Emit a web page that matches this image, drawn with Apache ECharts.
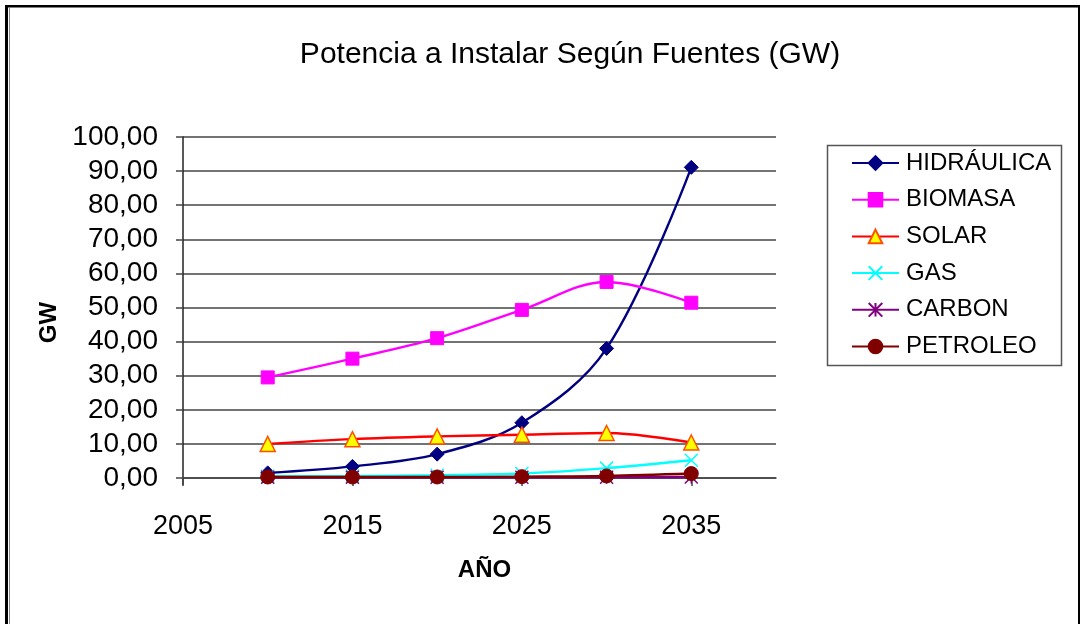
<!DOCTYPE html>
<html>
<head>
<meta charset="utf-8">
<script src="https://cdn.jsdelivr.net/npm/echarts@6/dist/echarts.min.js"></script>
<style>
  html, body { margin: 0; padding: 0; background: #fff; }
  #chart { width: 1085px; height: 624px; }
</style>
</head>
<body>
<div id="chart"></div>
<script>
// datos
const years      = [2010, 2015, 2020, 2025, 2030, 2035];
const hidraulica = [1.5, 3.4, 7.0, 16.2, 38.0, 91.1];
const biomasa    = [29.5, 35.0, 41.0, 49.3, 57.5, 51.4];
const solar      = [10.0, 11.4, 12.2, 12.7, 13.2, 10.4];
const gas        = [0.5, 0.6, 0.8, 1.3, 2.9, 5.2];
const carbon     = [0.2, 0.2, 0.2, 0.2, 0.2, 0.3];
const petroleo   = [0.3, 0.3, 0.3, 0.4, 0.6, 1.3];
const seriesNames = ['HIDRÁULICA', 'BIOMASA', 'SOLAR', 'GAS', 'CARBON', 'PETROLEO'];

const FONT = 'Liberation Sans, Arial, sans-serif';
const xMark = 'path://M0,0L10,10M10,0L0,10';
const starMark = 'path://M5,0L5,10M0,0L10,10M10,0L0,10';

function pairs(vals) {
    return years.map(function (y, i) { return [y, vals[i]]; });
}

function makeSeries(name, vals, color, symbol, size, extra) {
    const s = {
        name: name,
        type: 'line',
        smooth: 0.35,
        data: pairs(vals),
        symbol: symbol,
        symbolSize: size,
        showAllSymbol: true,
        lineStyle: { color: color, width: 2.4 },
        itemStyle: { color: color, borderColor: color, borderWidth: 1, opacity: 1 },
        emphasis: { disabled: true }
    };
    return Object.assign(s, extra || {});
}

const chart = echarts.init(document.getElementById('chart'));

const option = {
    animation: false,
    backgroundColor: '#fff',
    title: {
        text: 'Potencia a Instalar Según Fuentes (GW)',
        left: 570,
        top: 40,
        textAlign: 'center',
        padding: 0,
        textStyle: { fontFamily: FONT, fontSize: 30, fontWeight: 'normal', color: '#000' }
    },
    legend: {
        orient: 'vertical',
        left: 851,
        top: 151,
        padding: 0,
        itemWidth: 47,
        itemHeight: 17,
        itemGap: 12.7,
        data: seriesNames,
        textStyle: { fontFamily: FONT, fontSize: 24, color: '#000', lineHeight: 24, padding: [0, 0, 0, 2] }
    },
    grid: { left: 183, right: 309, top: 137, bottom: 146 },
    xAxis: {
        type: 'value',
        min: 2005,
        max: 2040,
        interval: 10,
        name: 'AÑO',
        nameLocation: 'middle',
        nameGap: 80,
        nameTextStyle: { fontFamily: FONT, fontSize: 24, fontWeight: 'bold', color: '#000', padding: [0, 0, 0, 10] },
        splitLine: { show: false },
        axisLine: { show: true, onZero: false, lineStyle: { color: '#444', width: 1.5 } },
        axisTick: { show: true, inside: false, length: 8, lineStyle: { color: '#444', width: 1.5 } },
        axisLabel: {
            showMaxLabel: false,
            margin: 35,
            fontFamily: FONT, fontSize: 27, color: '#000',
            formatter: function (v) { return String(v); }
        }
    },
    yAxis: {
        type: 'value',
        min: 0,
        max: 100,
        interval: 10,
        name: 'GW',
        nameLocation: 'middle',
        nameGap: 103,
        nameRotate: 90,
        nameTextStyle: { fontFamily: FONT, fontSize: 24, fontWeight: 'bold', color: '#000', padding: [0, 30, 0, 0] },
        axisLine: { show: true, lineStyle: { color: '#222', width: 1.5 } },
        axisTick: { show: true, inside: false, length: 7, lineStyle: { color: '#444', width: 1.5 } },
        splitLine: { show: true, lineStyle: { color: '#444', width: 1.5 } },
        axisLabel: {
            margin: 25,
            fontFamily: FONT, fontSize: 28, color: '#000',
            formatter: function (v) { return v.toFixed(2).replace('.', ','); }
        }
    },
    graphic: [
        // marco exterior
        { type: 'rect', shape: { x: 5, y: 5, width: 3, height: 619 }, style: { fill: '#000' }, silent: true },
        { type: 'rect', shape: { x: 5, y: 5, width: 1075, height: 2.5 }, style: { fill: '#000' }, silent: true },
        { type: 'line', shape: { x1: 9.5, y1: 8, x2: 9.5, y2: 624 }, style: { stroke: '#888', lineWidth: 1 }, silent: true },
        { type: 'line', shape: { x1: 1079, y1: 5, x2: 1079, y2: 624 }, style: { stroke: '#000', lineWidth: 2 }, silent: true },
        // eje Y un poco por debajo de cero
        { type: 'line', shape: { x1: 183, y1: 478, x2: 183, y2: 485 }, style: { stroke: '#222', lineWidth: 1.5 }, silent: true },
        // caja de la leyenda
        { type: 'rect', shape: { x: 827.5, y: 145.5, width: 234, height: 220 }, style: { fill: 'none', stroke: '#555', lineWidth: 1.5 }, silent: true, z: -1 }
    ],
    series: [
        makeSeries('HIDRÁULICA', hidraulica, '#000080', 'diamond', 14),
        makeSeries('BIOMASA', biomasa, '#FF00FF', 'rect', 13),
        makeSeries('SOLAR', solar, '#FF0000', 'triangle', 15, {
            itemStyle: { color: '#FFFF00', borderColor: '#FF5000', borderWidth: 1.5, opacity: 1 }
        }),
        makeSeries('GAS', gas, '#00FFFF', xMark, 13, {
            itemStyle: { color: 'none', borderColor: '#00FFFF', borderWidth: 1.5, opacity: 1 }
        }),
        makeSeries('CARBON', carbon, '#800080', starMark, 13, {
            itemStyle: { color: 'none', borderColor: '#800080', borderWidth: 1.5, opacity: 1 }
        }),
        makeSeries('PETROLEO', petroleo, '#800000', 'circle', 14)
    ]
};

chart.setOption(option);
</script>
</body>
</html>
